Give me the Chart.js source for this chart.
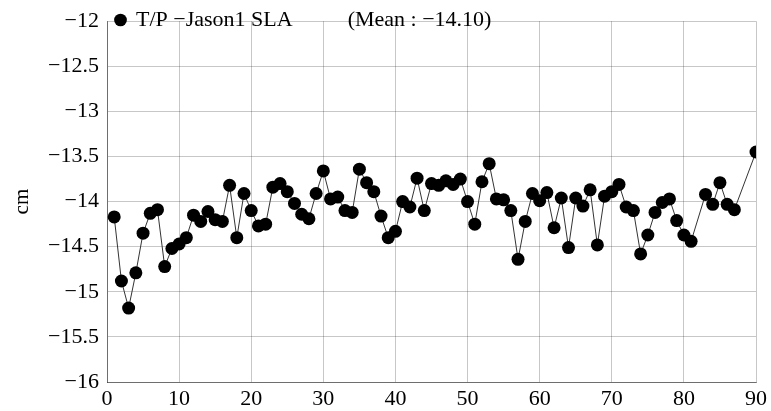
<!DOCTYPE html>
<html>
<head>
<meta charset="utf-8">
<script src="https://cdn.jsdelivr.net/npm/chart.js@4/dist/chart.umd.min.js"></script>
<style>
  html, body { margin: 0; padding: 0; background: #fff; }
  #wrap { width: 771px; height: 411px; }
</style>
</head>
<body>
<div id="wrap"><canvas id="myChart"></canvas></div>
<script>
// cycle numbers and SLA values (cm)
const cycles = [1, 2, 3, 4, 5, 6, 7, 8, 9, 10, 11, 12, 13, 14, 15, 16, 17, 18, 19, 20,
    21, 22, 23, 24, 25, 26, 27, 28, 29, 30, 31, 32, 33, 34, 35, 36, 37, 38, 39, 40,
    41, 42, 43, 44, 45, 46, 47, 48, 49, 50, 51, 52, 53, 54, 55, 56, 57, 58, 59, 60,
    61, 62, 63, 64, 65, 66, 67, 68, 69, 70, 71, 72, 73, 74, 75, 76, 77, 78, 79, 80,
    81, 83, 84, 85, 86, 87, 90];
const sla = [-14.17, -14.88, -15.18, -14.79, -14.35, -14.13, -14.09, -14.72, -14.52, -14.47,
    -14.40, -14.15, -14.22, -14.11, -14.20, -14.22, -13.82, -14.40, -13.91, -14.10,
    -14.27, -14.25, -13.84, -13.80, -13.89, -14.02, -14.14, -14.19, -13.91, -13.66,
    -13.97, -13.95, -14.10, -14.12, -13.64, -13.79, -13.89, -14.16, -14.40, -14.33,
    -14.00, -14.06, -13.74, -14.10, -13.80, -13.82, -13.77, -13.81, -13.75, -14.00,
    -14.25, -13.78, -13.58, -13.97, -13.98, -14.10, -14.64, -14.22, -13.91, -13.99,
    -13.90, -14.29, -13.96, -14.51, -13.96, -14.05, -13.87, -14.48, -13.94, -13.89,
    -13.81, -14.06, -14.10, -14.58, -14.37, -14.12, -14.01, -13.97, -14.21, -14.37,
    -14.44, -13.92, -14.03, -13.79, -14.03, -14.09, -13.45];
const seriesLabel = 'T/P \u2212Jason1 SLA          (Mean : \u221214.10)';
const yTitle = 'cm';

const pts = [];
for (let i = 0; i < cycles.length; i++) {
    pts.push({ x: cycles[i], y: sla[i] });
}

const serif = "'Liberation Serif', 'DejaVu Serif', serif";
const gridColor = 'rgba(0,0,0,0.22)';

function minusFmt(v) {
    const s = String(Math.round(v * 10) / 10);
    return s.replace('-', '\u2212');
}

let ctx = document.getElementById('myChart');
new Chart(ctx, {
    type: 'scatter',
    data: {
        datasets: [{
            label: seriesLabel,
            data: pts,
            showLine: true,
            clip: 0,
            borderColor: '#333',
            borderWidth: 1,
            pointRadius: 6.5,
            pointHoverRadius: 6.5,
            pointBackgroundColor: '#000',
            pointBorderColor: '#000',
            pointBorderWidth: 0
        }]
    },
    options: {
        responsive: true,
        maintainAspectRatio: false,
        animation: false,
        layout: { padding: { top: 9, right: 12, left: 0, bottom: 0 } },
        plugins: {
            tooltip: { enabled: false },
            legend: {
                position: 'chartArea',
                align: 'start',
                labels: {
                    usePointStyle: true,
                    boxWidth: 9,
                    boxHeight: 9,
                    padding: 9,
                    color: '#000',
                    font: { family: serif, size: 22 }
                }
            }
        },
        scales: {
            x: {
                type: 'linear',
                min: 0,
                max: 90,
                ticks: {
                    stepSize: 10,
                    color: '#000',
                    padding: 4,
                    font: { family: serif, size: 22 }
                },
                grid: { color: gridColor, drawTicks: false },
                border: { color: 'rgba(0,0,0,0.45)' },
                afterFit: function (scale) { scale.height = 29; }
            },
            y: {
                min: -16,
                max: -12,
                ticks: {
                    stepSize: 0.5,
                    color: '#000',
                    padding: 8,
                    font: { family: serif, size: 22 },
                    callback: function (v) { return minusFmt(v); }
                },
                grid: { color: gridColor, drawTicks: false },
                border: { color: 'rgba(0,0,0,0.45)' },
                title: {
                    display: true,
                    text: yTitle,
                    color: '#000',
                    padding: { top: 10, bottom: 0 },
                    font: { family: serif, size: 21 }
                },
                afterFit: function (scale) { scale.width = 107; }
            }
        }
    }
});
</script>
</body>
</html>
